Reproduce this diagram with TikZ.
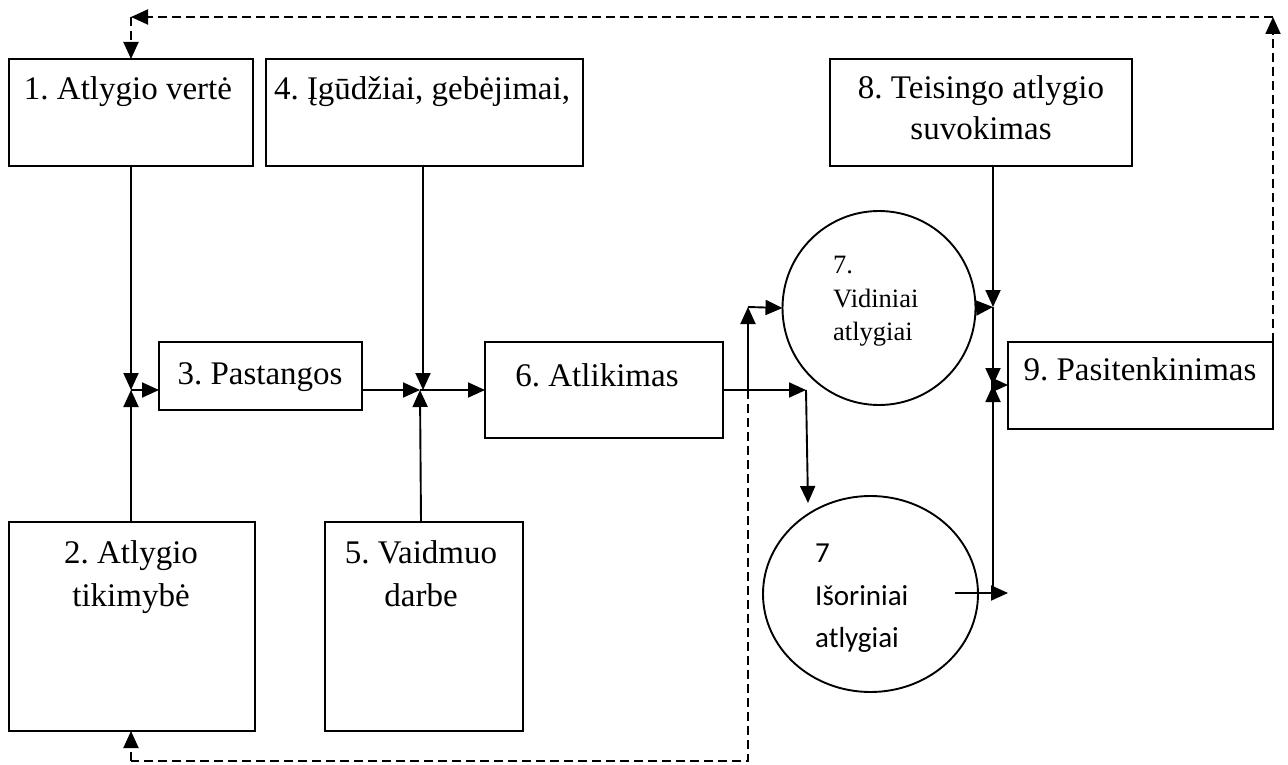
\documentclass[tikz,border=0pt]{standalone}
\usepackage{fontspec}
\setmainfont{Liberation Serif}
\newfontfamily\calibfont{Carlito}
\usetikzlibrary{arrows.meta,shapes.geometric}
\frenchspacing
\begin{document}
\begin{tikzpicture}[x=1pt,y=-1pt,
  box/.style={draw,line width=1.9pt,inner sep=0,outer sep=0},
  circ/.style={draw,ellipse,line width=1.9pt,inner sep=0,outer sep=0},
  txt/.style={inner sep=0,anchor=base,font=\frenchspacing\fontsize{33}{38}\selectfont},
  smalltxt/.style={inner sep=0,anchor=base west,font=\frenchspacing\fontsize{26.5}{30}\selectfont},
  sanstxt/.style={inner sep=0,anchor=base west,font=\calibfont\fontsize{29}{32}\selectfont},
  conn/.style={line width=1.9pt,-{Triangle[length=17pt,width=15pt]}},
  dline/.style={line width=1.9pt,dash pattern=on 9pt off 5pt},
  dconn/.style={conn,dash pattern=on 9pt off 5pt}]
\useasboundingbox (0,0) rectangle (1288,765);

% boxes
\node[box,minimum width=244pt,minimum height=107pt] (b1) at (131,112.5) {};
\node[box,minimum width=317pt,minimum height=107pt] (b4) at (424.5,112.5) {};
\node[box,minimum width=302pt,minimum height=107pt] (b8) at (981,112.5) {};
\node[box,minimum width=203pt,minimum height=68pt] (b3) at (260.5,376) {};
\node[box,minimum width=238pt,minimum height=96pt] (b6) at (604,390) {};
\node[box,minimum width=265pt,minimum height=87pt] (b9) at (1140.5,385.5) {};
\node[box,minimum width=246pt,minimum height=209pt] (b2) at (132,626.5) {};
\node[box,minimum width=198pt,minimum height=209pt] (b5) at (424,626.5) {};
\node[circ,minimum width=193pt,minimum height=194pt] (c7a) at (879,308) {};
\node[circ,minimum width=215pt,minimum height=196pt] (c7b) at (870.5,594) {};

% texts
\node[txt] (t1) at (128,100) {1. Atlygio vertė};
\node[txt] (t4) at (422,100) {4. Įgūdžiai, gebėjimai,};
\node[txt] (t8a) at (981,99) {8. Teisingo atlygio};
\node[txt] (t8b) at (981,140) {suvokimas};
\node[txt] (t3) at (260,384) {3. Pastangos};
\node[txt] (t6) at (597,386) {6. Atlikimas};
\node[txt] (t9) at (1140,380) {9. Pasitenkinimas};
\node[txt] (t2a) at (131,563) {2. Atlygio};
\node[txt] (t2b) at (131,606) {tikimybė};
\node[txt] (t5a) at (421,563) {5. Vaidmuo};
\node[txt] (t5b) at (421,606) {darbe};
\node[smalltxt] (t7a1) at (833,273) {7.};
\node[smalltxt] (t7a2) at (833,307) {Vidiniai};
\node[smalltxt] (t7a3) at (833,340) {atlygiai};
\node[sanstxt] (t7b1) at (815,562) {7};
\node[sanstxt] (t7b2) at (815,605) {Išoriniai};
\node[sanstxt] (t7b3) at (815,647) {atlygiai};

% junctions
\coordinate (j1) at (131,390);
\coordinate (j2) at (420,390);
\coordinate (k1) at (806,390);
\coordinate (k2) at (808,503);
\coordinate (k3) at (748,307);
\coordinate (k4) at (748,390);
\coordinate (m1) at (993,307);
\coordinate (m2) at (993,385);
\coordinate (m3) at (993,593);
\coordinate (s1) at (955,593);
\coordinate (tr) at (1273,17);
\coordinate (tl) at (131,17);
\coordinate (br) at (748,761);
\coordinate (bl) at (131,761);

% left junction
\draw[conn] (b1.south) -- (j1);
\draw[conn] (b2.north -| j1) -- (j1);
\draw[conn] (j1) -- (j1 -| b3.west);
% middle junction
\draw[conn] (b3.east |- j2) -- (j2);
\draw[conn] (b4.south) ++(-1.5,0) -- (j2 -| 423,0);
\draw[conn] (b5.north) ++(-3,0) -- (j2);
\draw[conn] (j2) -- (j2 -| b6.west);
% outputs of 6
\draw[conn] (b6.east |- k1) -- (k1);
\draw[conn] (k1) -- (k2);
\draw[conn] (k4) -- (k3);
\draw[conn] (k3) -- (c7a.west);
% right junction
\draw[conn] (b8.south -| m1) -- (m1);
\draw[conn] (c7a.east) -- (m1);
\draw[conn] (m1) -- (m2);
\draw[conn] (m3) -- (m2);
\draw[conn] (m2) -- (m2 -| b9.west);
\draw[conn] (s1) -- (s1 -| b9.west);
% dashed feedback loops
\draw[dconn] (b9.north east) -- (tr);
\draw[dconn] (tr) -- (tl);
\draw[dconn] (tl) -- (b1.north);
\draw[dline] (k4) -- (br) -- (bl);
\draw[dconn] (bl) -- (b2.south -| bl);
\end{tikzpicture}
\end{document}
